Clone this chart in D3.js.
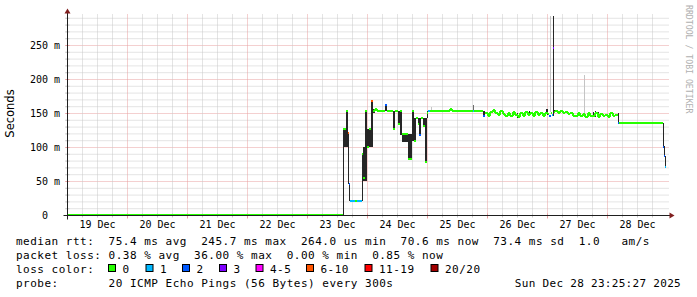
<!DOCTYPE html>
<html>
<head>
<meta charset="utf-8">
<script src="https://cdn.jsdelivr.net/npm/d3@7/dist/d3.min.js"></script>
<style>
  html, body { margin: 0; padding: 0; background: #fff; }
  svg { display: block; }
  text { font-family: "DejaVu Sans Mono", monospace; fill: #000; white-space: pre; }
</style>
</head>
<body>
<svg id="chart" width="697" height="297"></svg>
<script>
// median rtt steps: start hour (since 19 Dec 00:00), median in ms, lost pings of 20
const medianHours = [
  0, 110.3, 111.4, 112.1, 112.5, 113.0, 115.0, 115.6, 117.7, 118.1,
  119.0, 119.8, 120.4, 121.4, 122.1, 123.0, 123.7, 127.0, 127.7, 130.2,
  130.9, 132.3, 133.1, 133.9, 136.3, 137.7, 138.5, 139.3, 140.1, 140.6,
  141.4, 142.3, 142.8, 143.7, 144.3, 145.0, 153.0, 153.6, 162.0, 162.4,
  166.1,
  167, 168, 169, 170, 171, 172, 173, 174, 175, 176, 177, 178, 179, 180,
  181, 182, 183, 184, 185, 186, 187, 188, 189, 190, 191,
  192.0, 192.6, 193.2, 193.8, 194.2, 194.6,
  195, 196, 197, 198, 199, 200, 201, 202, 203, 204, 205, 206, 207, 208,
  209, 210, 211, 212, 213, 214, 215, 216, 217, 218, 219,
  220.3, 220.7, 238.0, 238.4, 238.8
];
const medianMs = [
  0.6, 127, 153, 121, 47, 21, 21, 21, 91, 55,
  153, 100, 127, 168, 153, 157, 153, 162, 153, 127.5,
  153, 135, 153, 120, 83, 153, 110, 144, 135, 118,
  144, 132, 78, 150, 153, 153, 157, 153, 153, 153,
  146,
  150, 147, 152, 155, 150, 148, 153, 149, 146, 151, 147, 152, 148, 145,
  150, 147, 152, 148, 151, 146, 152, 148, 150, 147, 151,
  149, 147, 151, 148, 245.7, 152,
  154, 151, 153, 150, 152, 149, 150, 147, 146, 150, 146, 149, 145, 150,
  147, 146, 150, 145, 149, 146, 148, 145, 150, 146, 148,
  136, 135.8, 100, 88, 70.6
];
const medianLoss = [
  0, 0, 0, 7, 2, 1, 0, 1, 0, 0,
  0, 0, 0, 7, 0, 0, 0, 2, 0, 0,
  0, 0, 0, 0, 0, 0, 0, 0, 0, 2,
  0, 0, 0, 0, 1, 0, 0, 0, 1, 0,
  2,
  0, 0, 0, 0, 0, 0, 0, 0, 0, 0, 0, 0, 0, 0,
  0, 0, 0, 0, 0, 0, 0, 0, 0, 0, 0,
  0, 2, 0, 1, 3, 0,
  0, 0, 0, 0, 0, 0, 0, 0, 0, 0, 0, 0, 0, 0,
  0, 0, 0, 0, 0, 0, 0, 0, 0, 0, 0,
  2, 0, 2, 2, 1
];
const medianEnd = 239.2;

// smoke (ping spread): [from hour, to hour, low ms, high ms, shade]
const smoke = [
  [110.0, 110.3, 0.6, 113, "dark"],
  [110.3, 111.4, 100, 128, "dark"],
  [111.4, 112.1, 100, 153, "dark"],
  [112.1, 112.5, 46, 121, "dark"],
  [112.5, 113.0, 22, 47, "dark"],
  [117.7, 118.1, 22, 91, "dark"],
  [118.1, 119.0, 51, 100, "dark"],
  [119.0, 119.8, 51, 153, "dark"],
  [119.8, 121.4, 100, 127, "dark"],
  [121.4, 122.1, 100, 169, "dark"],
  [122.1, 123.0, 150, 157, "dark"],
  [127.0, 127.7, 153, 162, "dark"],
  [130.2, 130.9, 127, 153, "dark"],
  [132.3, 133.1, 135, 153, "dark"],
  [133.1, 133.9, 118, 153, "dark"],
  [133.9, 136.3, 108, 120, "dark"],
  [136.3, 137.7, 83, 120, "dark"],
  [137.7, 138.5, 110, 153, "dark"],
  [138.5, 139.3, 110, 144, "dark"],
  [140.1, 140.6, 135, 144, "dark"],
  [140.6, 141.4, 118, 144, "dark"],
  [142.3, 142.8, 132, 144, "dark"],
  [142.8, 143.7, 78, 144, "dark"],
  [143.7, 144.3, 144, 153, "dark"],
  [145.2, 145.6, 153, 160, "light"],
  [153.0, 153.6, 153, 157, "dark"],
  [162.0, 162.4, 153, 163, "mid"],
  [166.1, 167.0, 145, 153, "dark"],
  [170.6, 171.0, 152, 156, "dark"],
  [175.8, 176.2, 145, 150, "dark"],
  [179.8, 180.2, 144, 151, "dark"],
  [184.6, 185.0, 148, 153, "dark"],
  [188.4, 188.8, 146, 151, "dark"],
  [191.2, 191.6, 150, 156, "dark"],
  [191.6, 192.0, 148, 156, "dark"],
  [192.8, 193.2, 152, 295, "light"],
  [194.2, 194.6, 147, 295, "dark"],
  [194.6, 195.0, 150, 155, "dark"],
  [206.7, 207.1, 150, 206, "light"],
  [210.0, 210.4, 146, 152, "dark"],
  [210.8, 211.2, 145, 153, "dark"],
  [212.0, 212.4, 146, 152, "dark"],
  [216.4, 216.8, 145, 150, "dark"],
  [220.3, 220.7, 136, 150, "dark"],
  [238.0, 238.4, 100, 136, "dark"],
  [238.4, 238.8, 88, 102, "dark"],
  [238.8, 239.2, 70.6, 88, "dark"]
];

const dayLabels = ["19 Dec", "20 Dec", "21 Dec", "22 Dec", "23 Dec",
                   "24 Dec", "25 Dec", "26 Dec", "27 Dec", "28 Dec"];
const yTicks = [0, 50, 100, 150, 200, 250];

const lossLabels = ["0", "1", "2", "3", "4-5", "6-10", "11-19", "20/20"];
const lossMax = [0, 1, 2, 3, 5, 10, 19, 20];
const lossColors = ["#26ff00", "#00b8ff", "#0059ff", "#7e00ff",
                    "#ff00ff", "#ff5500", "#ff0000", "#a00000"];

const legendRtt = "median rtt:  75.4 ms avg  245.7 ms max  264.0 us min  70.6 ms now  73.4 ms sd  1.0   am/s";
const legendLoss = "packet loss: 0.38 % avg  36.00 % max  0.00 % min  0.85 % now";
const legendProbe = "probe:       20 ICMP Echo Pings (56 Bytes) every 300s";
const stampText = "Sun Dec 28 23:25:27 2025";

const svg = d3.select("#chart");
const x = d3.scaleLinear().domain([0, 240]).range([67.5, 667.5]);
const y = d3.scaleLinear().domain([0, 294.1]).range([215.5, 15.5]);
const [x0, x1] = x.range();
const [y0, y1] = y.range();

const lossColor = (n) => lossColors[lossMax.findIndex((m) => n <= m)];

svg.append("rect").attr("width", 697).attr("height", 297).attr("fill", "#fff");

// grid
const grid = svg.append("g");
const minorCol = "#c9c9c9";
const majorCol = "#e8a0a0";
d3.range(10, 291, 10).forEach((v) => {
  const major = v % 50 === 0;
  const yy = y(v);
  grid.append("line")
    .attr("x1", x0 - 2).attr("x2", x1 + 2).attr("y1", yy).attr("y2", yy)
    .attr("stroke", major ? majorCol : minorCol)
    .attr("stroke-dasharray", "1,1");
  grid.append("line")
    .attr("x1", x0 - 2).attr("x2", x0 + 2).attr("y1", yy).attr("y2", yy)
    .attr("stroke", major ? majorCol : minorCol);
});
d3.range(6, 240, 6).forEach((h) => {
  const major = h % 24 === 0;
  const xx = x(h);
  grid.append("line")
    .attr("x1", xx).attr("x2", xx).attr("y1", y0).attr("y2", y1 - 2)
    .attr("stroke", major ? majorCol : minorCol)
    .attr("stroke-dasharray", "1,1");
  grid.append("line")
    .attr("x1", xx).attr("x2", xx).attr("y1", y0 + (major ? 3 : 2)).attr("y2", y0 - 2)
    .attr("stroke", major ? majorCol : minorCol);
});

// smoke
const shade = { dark: "#262626", mid: "#6e6e6e", light: "#c4c4c4" };
svg.append("g").selectAll("rect")
  .data(smoke)
  .join("rect")
  .attr("shape-rendering", "crispEdges")
  .attr("x", (d) => x(d[0]))
  .attr("width", (d) => Math.max(1, x(d[1]) - x(d[0])))
  .attr("y", (d) => y(Math.min(d[3], 294.1)))
  .attr("height", (d) => y(d[2]) - y(Math.min(d[3], 294.1)))
  .attr("fill", (d) => shade[d[4]]);

// median line, coloured by loss
const steps = medianHours.map((h, i) => ({
  h0: h,
  h1: i + 1 < medianHours.length ? medianHours[i + 1] : medianEnd,
  v: medianMs[i],
  loss: medianLoss[i]
}));
const med = svg.append("g").attr("shape-rendering", "crispEdges");
steps.forEach((s, i) => {
  med.append("line")
    .attr("x1", x(s.h0)).attr("x2", x(s.h1))
    .attr("y1", y(s.v)).attr("y2", y(s.v))
    .attr("stroke", lossColor(s.loss))
    .attr("stroke-width", 2);
  const n = steps[i + 1];
  if (n && n.loss === s.loss && Math.abs(n.v - s.v) <= 8 && n.v !== s.v) {
    med.append("line")
      .attr("x1", x(n.h0)).attr("x2", x(n.h0))
      .attr("y1", y(s.v)).attr("y2", y(n.v))
      .attr("stroke", lossColor(s.loss))
      .attr("stroke-width", 2);
  }
});

// axes
const axisCol = "#1f1f1f";
svg.append("line").attr("x1", x0 - 4).attr("x2", x1 + 4).attr("y1", y0).attr("y2", y0)
  .attr("stroke", axisCol);
svg.append("line").attr("x1", x0).attr("x2", x0).attr("y1", y0 + 4).attr("y2", y1 - 4)
  .attr("stroke", axisCol);
svg.append("path")
  .attr("d", `M${x1 + 2},${y0 - 3}L${x1 + 2},${y0 + 3}L${x1 + 7},${y0}Z`)
  .attr("fill", "#801f1f");
svg.append("path")
  .attr("d", `M${x0 - 3},${y1 - 2}L${x0 + 3},${y1 - 2}L${x0},${y1 - 7}Z`)
  .attr("fill", "#801f1f");

// tick labels
svg.append("g").selectAll("text")
  .data(yTicks)
  .join("text")
  .attr("x", (d) => (d === 0 ? 48 : 60))
  .attr("y", (d) => y(d) + 3.5)
  .attr("text-anchor", "end")
  .attr("font-size", 10)
  .text((d) => (d === 0 ? "0" : d + " m"));

svg.append("g").selectAll("text")
  .data(dayLabels)
  .join("text")
  .attr("x", (d, i) => x(i * 24 + 12))
  .attr("y", 228)
  .attr("text-anchor", "middle")
  .attr("font-size", 10)
  .text((d) => d);

svg.append("text")
  .attr("transform", "translate(14,113.5) rotate(-90)")
  .attr("text-anchor", "middle")
  .style("font-family", "'DejaVu Sans', sans-serif")
  .attr("font-size", 11.5)
  .text("Seconds");

svg.append("text")
  .attr("transform", "translate(685.5,5) rotate(90)")
  .style("fill", "#b0b0b0")
  .attr("font-size", 8.2)
  .text("RRDTOOL / TOBI OETIKER");

// legend
const leg = svg.append("g").attr("font-size", 11).attr("letter-spacing", 0.5);
leg.append("text").attr("x", 16).attr("y", 244.5).text(legendRtt);
leg.append("text").attr("x", 16).attr("y", 258.5).text(legendLoss);
leg.append("text").attr("x", 16).attr("y", 272.5).text("loss color:");
const boxX = [108.5, 146, 182.5, 219.5, 256, 306.5, 365, 431];
lossLabels.forEach((t, i) => {
  leg.append("rect")
    .attr("x", boxX[i]).attr("y", 264.5).attr("width", 7).attr("height", 7)
    .attr("fill", lossColors[i]).attr("stroke", "#000");
  leg.append("text").attr("x", boxX[i] + 14).attr("y", 272.5).text(t);
});
leg.append("text").attr("x", 16).attr("y", 286.5).text(legendProbe);
leg.append("text").attr("x", 681).attr("y", 286.5).attr("text-anchor", "end")
  .attr("letter-spacing", 0.3).text(stampText);
</script>
</body>
</html>
